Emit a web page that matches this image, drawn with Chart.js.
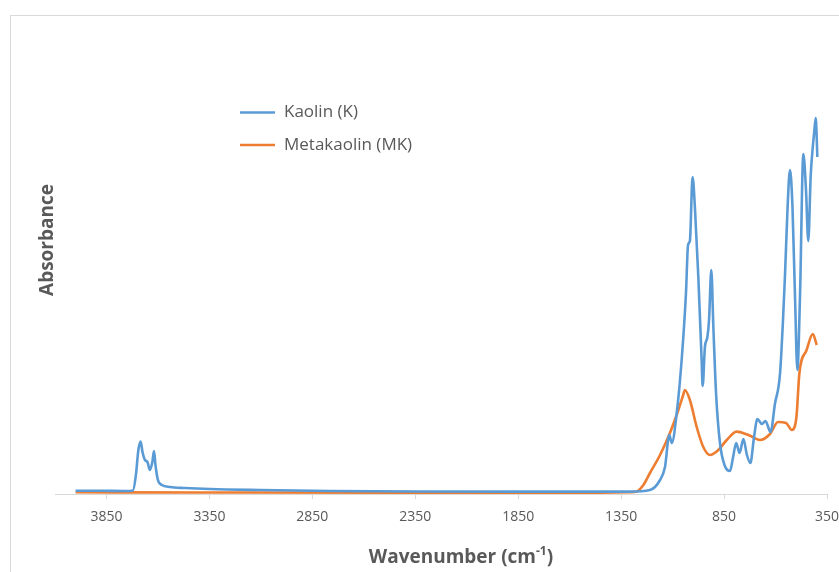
<!DOCTYPE html>
<html>
<head>
<meta charset="utf-8">
<script src="https://cdn.jsdelivr.net/npm/chart.js@4.4.1/dist/chart.umd.min.js"></script>
<style>
  html, body { margin: 0; padding: 0; background: #ffffff; }
  #wrap { width: 839px; height: 572px; position: relative; }
</style>
</head>
<body>
<div id="wrap"><canvas id="c" width="839" height="572"></canvas></div>
<script>
// ---- data ----
const seriesNames = ["Kaolin (K)", "Metakaolin (MK)"];
const xTickValues = [3850, 3350, 2850, 2350, 1850, 1350, 850, 350];

const kaolinWavenumber = [4000, 3882, 3760, 3721, 3707, 3695, 3684, 3675, 3663, 3651, 3639, 3627, 3619, 3612, 3600, 3581, 3542, 3469, 3347, 3104, 2764, 2327, 1841, 1453, 1307, 1210, 1161, 1137, 1116, 1104, 1080, 1056, 1035, 1025, 1016, 1003, 991, 975, 959, 954, 943, 931, 923, 912, 902, 889, 870, 846, 821, 807, 791, 775, 756, 739, 722, 705, 688, 666, 649, 624, 603, 578, 554, 542, 530, 518, 505, 494, 481, 465, 452, 441, 429, 419, 412, 405, 400, 397];
const kaolinAbs = [0.008, 0.008, 0.0075, 0.009, 0.0475, 0.11, 0.131, 0.105, 0.085, 0.08, 0.06, 0.08, 0.1075, 0.0725, 0.035, 0.0225, 0.0175, 0.015, 0.0125, 0.01, 0.0075, 0.0063, 0.006, 0.006, 0.006, 0.01, 0.035, 0.0675, 0.1475, 0.1275, 0.2025, 0.335, 0.5025, 0.6225, 0.6325, 0.7925, 0.71, 0.5425, 0.335, 0.27, 0.3675, 0.3925, 0.435, 0.56, 0.4175, 0.2525, 0.1275, 0.07, 0.0575, 0.09, 0.1275, 0.1025, 0.1375, 0.0975, 0.0775, 0.14, 0.1875, 0.175, 0.1825, 0.155, 0.225, 0.3025, 0.5475, 0.71, 0.81, 0.7225, 0.485, 0.31, 0.4975, 0.85, 0.76, 0.6325, 0.7975, 0.8675, 0.905, 0.94, 0.8925, 0.8425];

const metakaolinWavenumber = [4000, 3396, 2424, 1453, 1307, 1274, 1242, 1210, 1161, 1113, 1072, 1050, 1040, 1016, 983, 951, 918, 878, 837, 789, 732, 675, 627, 588, 549, 521, 499, 484, 449, 419, 400];
const metakaolinAbs = [0.0043, 0.0038, 0.0033, 0.0033, 0.0045, 0.0065, 0.0225, 0.0525, 0.0975, 0.1525, 0.21, 0.245, 0.26, 0.235, 0.1675, 0.1175, 0.0975, 0.11, 0.135, 0.156, 0.1475, 0.135, 0.15, 0.18, 0.1775, 0.16, 0.19, 0.3025, 0.36, 0.4, 0.3725];

const seriesColors = ["#5B9BD5", "#ED7D31"];

function pts(xs, ys) { return xs.map((x, i) => ({ x: x, y: ys[i] })); }

const textColor = "#595959";
const fontFam = "'Open Sans', 'Liberation Sans', sans-serif";

const decorPlugin = {
  id: "decor",
  beforeDraw(chart) {
    const ctx = chart.ctx;
    ctx.save();
    ctx.strokeStyle = "#d9d9d9";
    ctx.lineWidth = 1;
    ctx.strokeRect(10.5, 15.5, 1000, 1000);
    ctx.restore();
  },
  afterDraw(chart) {
    const ctx = chart.ctx;
    ctx.save();
    // legend
    const legendY = [112.5, 145];
    chart.data.datasets.forEach((ds, i) => {
      ctx.strokeStyle = ds.borderColor;
      ctx.lineWidth = 2.5;
      ctx.beginPath();
      ctx.moveTo(240, legendY[i]);
      ctx.lineTo(275, legendY[i]);
      ctx.stroke();
      ctx.fillStyle = textColor;
      ctx.font = "17px " + fontFam;
      ctx.textAlign = "left";
      ctx.textBaseline = "middle";
      ctx.fillText(ds.label, 284, legendY[i]);
    });
    // y title
    ctx.save();
    ctx.translate(48, 240);
    ctx.rotate(-Math.PI / 2);
    ctx.fillStyle = textColor;
    ctx.font = "bold 19px " + fontFam;
    ctx.textAlign = "center";
    ctx.textBaseline = "middle";
    ctx.fillText("Absorbance", 0, 0);
    ctx.restore();
    // x title with superscript
    const big = "bold 19px " + fontFam;
    const small = "bold 12px " + fontFam;
    const p1 = "Wavenumber (cm", p2 = "-1", p3 = ")";
    ctx.font = big; const w1 = ctx.measureText(p1).width; const w3 = ctx.measureText(p3).width;
    ctx.font = small; const w2 = ctx.measureText(p2).width;
    const total = w1 + w2 + w3;
    let x = 461 - total / 2;
    const yb = 563;
    ctx.fillStyle = textColor;
    ctx.textAlign = "left";
    ctx.textBaseline = "alphabetic";
    ctx.font = big; ctx.fillText(p1, x, yb); x += w1;
    ctx.font = small; ctx.fillText(p2, x, yb - 8); x += w2;
    ctx.font = big; ctx.fillText(p3, x, yb);
    ctx.restore();
  }
};

new Chart(document.getElementById("c"), {
  type: "line",
  data: {
    datasets: [
      { label: seriesNames[0], data: pts(kaolinWavenumber, kaolinAbs), borderColor: seriesColors[0], backgroundColor: seriesColors[0], borderWidth: 2.6, pointRadius: 0, cubicInterpolationMode: "monotone", fill: false },
      { label: seriesNames[1], data: pts(metakaolinWavenumber, metakaolinAbs), borderColor: seriesColors[1], backgroundColor: seriesColors[1], borderWidth: 2.6, pointRadius: 0, cubicInterpolationMode: "monotone", fill: false }
    ]
  },
  options: {
    responsive: false,
    animation: false,
    layout: { padding: { left: 55, right: 12, top: 40, bottom: 0 } },
    plugins: { legend: { display: false }, tooltip: { enabled: false } },
    scales: {
      x: {
        type: "linear",
        reverse: true,
        min: 350,
        max: 4100,
        afterBuildTicks(scale) { scale.ticks = xTickValues.map(v => ({ value: v })); },
        afterFit(scale) { scale.height = 78; scale.paddingLeft = 0; scale.paddingRight = 0; },
        grid: { display: true, drawOnChartArea: false, drawTicks: true, tickLength: 5, color: "#d9d9d9" },
        border: { display: true, color: "#d9d9d9", width: 1 },
        ticks: { color: textColor, font: { family: fontFam, size: 14 }, padding: 10, maxRotation: 0, autoSkip: false, callback: v => String(v) }
      },
      y: {
        display: false,
        min: 0,
        max: 1.135
      }
    }
  },
  plugins: [decorPlugin]
});
</script>
</body>
</html>
